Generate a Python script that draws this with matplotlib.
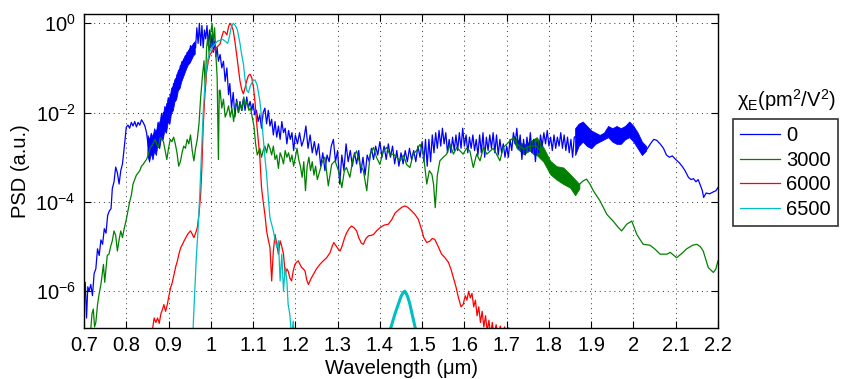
import numpy as np
import matplotlib
matplotlib.use("Agg")
import matplotlib.pyplot as plt
from matplotlib.ticker import FixedLocator, NullLocator, FuncFormatter

plt.rcParams['font.family'] = ['Liberation Sans', 'DejaVu Sans']
plt.rcParams['mathtext.fontset'] = 'custom'
plt.rcParams['mathtext.rm'] = 'Liberation Sans'
plt.rcParams['mathtext.it'] = 'Liberation Sans:italic'

# ---------------- data: (wavelength um, log10 PSD) ----------------
labels = ["0", "3000", "6000", "6500"]
colors = ["#0000ff", "#008000", "#ff0000", "#00bfbf"]

blue = [(0.700,-6.3),(0.703,-5.8),(0.706,-6.6),(0.709,-5.9),(0.712,-6.0),(0.716,-5.85),(0.720,-6.1),(0.724,-5.6),
(0.728,-5.5),(0.732,-5.05),(0.736,-5.2),(0.740,-4.85),(0.744,-4.95),(0.748,-4.6),(0.752,-4.7),(0.756,-4.3),(0.760,-4.2),
(0.764,-4.15),(0.767,-3.7),(0.771,-3.55),(0.775,-3.22),(0.779,-3.35),(0.783,-3.6),(0.787,-3.3),(0.791,-3.15),(0.795,-2.8),
(0.800,-2.33),(0.804,-2.28),(0.808,-2.35),(0.812,-2.22),(0.816,-2.3),(0.820,-2.2),(0.824,-2.32),(0.828,-2.22),(0.832,-2.28),
(0.836,-2.16),(0.840,-2.22),(0.844,-2.3),(0.848,-2.45),(0.852,-2.75),(0.856,-2.6),(0.860,-2.9),(0.864,-2.5),(0.868,-2.75),
(0.872,-2.4),(0.876,-2.5),(0.880,-2.2),(0.884,-2.4),(0.888,-2.0),(0.892,-2.2),(0.896,-1.8),(0.900,-2.0),(0.904,-1.6),
(0.908,-1.75),(0.912,-1.35),(0.916,-1.55),(0.920,-1.15),(0.924,-1.3),(0.928,-0.95),(0.932,-1.1),(0.936,-0.8),(0.940,-0.9),
(0.944,-0.65),(0.948,-0.75),(0.952,-0.5),(0.956,-0.62),(0.960,-0.45),(0.964,-0.55),(0.967,-0.1),(0.970,-0.45),(0.973,0.0),
(0.976,-0.5),(0.979,-0.05),(0.982,-0.55),(0.985,-0.15),(0.988,-0.35),(0.991,-0.05),(0.994,-0.5),(0.997,-0.15),(1.000,-0.55),
(1.003,-0.25),(1.006,-0.65),(1.009,-0.4),(1.012,-0.75),(1.015,-0.55),(1.018,-0.85),(1.022,-0.7),(1.026,-1.0),(1.030,-0.85),
(1.034,-1.3),(1.038,-1.0),(1.042,-1.6),(1.045,-1.35),(1.049,-1.9),(1.053,-1.55),(1.057,-2.1),(1.061,-1.7),(1.065,-2.0),
(1.069,-1.75),(1.073,-1.95),(1.077,-1.7),(1.081,-1.95),(1.085,-1.65),(1.089,-1.9),(1.093,-1.75),(1.097,-1.95),(1.100,-1.8),
(1.104,-2.05),(1.108,-1.95),(1.112,-2.2),(1.116,-2.05),(1.120,-2.35),(1.124,-2.0),(1.128,-1.9),(1.132,-2.25),(1.136,-1.95),
(1.140,-2.3),(1.144,-2.15),(1.148,-2.5),(1.152,-2.2),(1.156,-2.55),(1.160,-2.3),(1.164,-2.6),(1.168,-2.2),(1.172,-2.45),
(1.176,-2.35),(1.180,-2.7),(1.184,-2.4),(1.188,-2.6),(1.192,-2.45),(1.196,-2.85),(1.200,-2.5),(1.205,-2.7),(1.210,-2.45),
(1.215,-2.75),(1.220,-2.6),(1.225,-2.3),(1.230,-2.8),(1.235,-2.5),(1.240,-2.9),(1.245,-2.65),(1.250,-2.95),(1.255,-2.7),
(1.260,-3.2),(1.265,-2.9),(1.270,-3.3),(1.275,-2.95),(1.280,-3.1),(1.285,-2.75),(1.290,-2.6),(1.295,-3.1),(1.300,-2.85),
(1.305,-3.6),(1.310,-2.95),(1.315,-3.3),(1.320,-2.7),(1.325,-3.1),(1.330,-2.85),(1.335,-3.2),(1.340,-2.9),(1.345,-3.15),
(1.350,-2.85),(1.355,-3.35),(1.360,-3.0),(1.365,-3.4),(1.370,-2.95),(1.375,-3.1),(1.380,-2.8),(1.385,-3.05),(1.390,-2.75),
(1.395,-2.95),(1.400,-2.65),(1.405,-3.0),(1.410,-2.75),(1.415,-3.05),(1.420,-2.7),(1.425,-3.0),(1.430,-2.75),(1.435,-3.15),
(1.440,-2.85),(1.445,-3.2),(1.450,-2.9),(1.455,-3.15),(1.460,-2.85),(1.465,-3.1),(1.470,-2.8),(1.475,-3.05),(1.480,-2.85),
(1.485,-3.1),(1.490,-2.75),(1.495,-3.0),(1.500,-2.65),(1.504,-3.1),(1.508,-2.6),(1.512,-3.2),(1.516,-2.6),(1.520,-3.1),
(1.524,-2.5),(1.528,-2.9),(1.532,-2.45),(1.536,-2.8),(1.540,-2.4),(1.544,-2.75),(1.548,-2.35),(1.552,-2.7),(1.556,-2.45),
(1.560,-2.9),(1.564,-2.6),(1.568,-2.9),(1.572,-2.55),(1.576,-2.85),(1.580,-2.5),(1.584,-2.85),(1.588,-2.45),(1.592,-2.8),
(1.596,-2.35),(1.600,-2.75),(1.604,-2.5),(1.608,-2.9),(1.612,-2.55),(1.616,-2.8),(1.620,-2.5),(1.624,-2.85),(1.628,-2.6),
(1.632,-2.95),(1.636,-2.5),(1.640,-2.9),(1.644,-2.45),(1.648,-3.0),(1.652,-2.55),(1.656,-2.85),(1.660,-2.5),(1.664,-2.8),
(1.668,-2.45),(1.672,-2.9),(1.676,-2.5),(1.680,-2.95),(1.684,-2.6),(1.688,-2.9),(1.692,-2.7),(1.696,-3.0),(1.700,-2.75),
(1.704,-3.0),(1.708,-2.6),(1.712,-2.85),(1.716,-2.45),(1.720,-2.7),(1.724,-2.35),(1.728,-2.8),(1.732,-2.5),(1.736,-3.05),
(1.740,-2.6),(1.744,-2.95),(1.748,-2.55),(1.752,-2.85),(1.756,-2.45),(1.760,-2.9),(1.764,-2.6),(1.768,-3.1),(1.772,-2.65),
(1.776,-2.9),(1.780,-2.5),(1.784,-2.75),(1.788,-2.45),(1.792,-2.7),(1.796,-2.4),(1.800,-2.75),(1.804,-2.55),(1.808,-2.85),
(1.812,-2.5),(1.816,-2.8),(1.820,-2.55),(1.824,-2.75),(1.828,-2.45),(1.832,-2.8),(1.836,-2.5),(1.840,-2.85),(1.844,-2.55),
(1.848,-2.9),(1.852,-2.6),(1.856,-3.0),(1.860,-2.55),(1.870,-2.5),(1.890,-2.5),(1.910,-2.6),(1.930,-2.5),(1.950,-2.5),
(1.970,-2.5),(1.990,-2.4),(2.010,-2.6),(2.025,-2.8),(2.032,-2.82),(2.040,-2.7),(2.048,-2.6),(2.055,-2.62),(2.063,-2.7),
(2.071,-2.8),(2.078,-2.95),(2.085,-3.0),(2.092,-2.97),(2.100,-3.05),(2.108,-3.12),(2.115,-3.2),(2.122,-3.3),(2.130,-3.45),
(2.136,-3.5),(2.142,-3.48),(2.148,-3.55),(2.153,-3.5),(2.158,-3.62),(2.163,-3.75),(2.166,-3.9),(2.172,-3.8),(2.180,-3.82),
(2.188,-3.78),(2.195,-3.75),(2.200,-3.68)]

# dense-oscillation envelopes of the blue trace (wavelength, low, high)
blue_band1 = [(0.850,-2.95,-2.5),(0.854,-3.1,-2.6),(0.858,-2.9,-2.45),(0.862,-3.05,-2.55),(0.866,-2.85,-2.35),
(0.870,-2.95,-2.45),(0.874,-2.7,-2.2),(0.878,-2.8,-2.3),(0.882,-2.55,-2.0),(0.886,-2.6,-2.1),(0.890,-2.4,-1.85),
(0.894,-2.45,-1.9),(0.898,-2.2,-1.65),(0.902,-2.25,-1.7),(0.906,-2.0,-1.45),(0.910,-1.95,-1.4),(0.914,-1.75,-1.25),
(0.918,-1.7,-1.2),(0.922,-1.5,-1.05),(0.926,-1.45,-1.0),(0.930,-1.3,-0.85),(0.934,-1.2,-0.82),(0.938,-1.1,-0.72),
(0.942,-1.0,-0.68),(0.946,-0.92,-0.6),(0.950,-0.88,-0.55),(0.954,-0.8,-0.5),(0.958,-0.72,-0.45),(0.962,-0.68,-0.4)]
blue_band2 = [(1.862,-2.95,-2.35),(1.870,-2.75,-2.25),(1.880,-2.65,-2.2),(1.890,-2.75,-2.3),(1.900,-2.8,-2.4),
(1.910,-2.7,-2.45),(1.920,-2.65,-2.5),(1.930,-2.6,-2.45),(1.940,-2.55,-2.3),(1.950,-2.65,-2.35),(1.960,-2.7,-2.3),
(1.970,-2.7,-2.35),(1.980,-2.6,-2.3),(1.990,-2.55,-2.2),(2.000,-2.65,-2.3),(2.010,-2.8,-2.45),(2.020,-2.95,-2.65),
(2.030,-2.85,-2.75)]

green = [(0.714,-7.2),(0.716,-6.85),(0.719,-6.5),(0.722,-6.4),(0.725,-6.8),(0.728,-6.7),(0.732,-6.3),(0.736,-6.05),
(0.740,-5.85),(0.743,-5.62),(0.746,-5.4),(0.749,-5.8),(0.752,-5.5),(0.755,-5.2),(0.759,-5.17),(0.763,-5.0),(0.767,-4.87),
(0.771,-4.65),(0.775,-4.75),(0.779,-5.1),(0.783,-4.85),(0.787,-4.65),(0.791,-4.8),(0.795,-4.6),(0.800,-4.4),(0.804,-4.2),
(0.808,-4.0),(0.812,-3.85),(0.816,-3.6),(0.820,-3.5),(0.824,-3.4),(0.828,-3.35),(0.832,-3.3),(0.836,-3.2),(0.840,-3.16),
(0.844,-3.1),(0.848,-3.05),(0.852,-2.95),(0.856,-2.8),(0.860,-2.75),(0.864,-2.68),(0.868,-2.6),(0.872,-2.7),(0.876,-2.78),
(0.880,-2.56),(0.884,-2.6),(0.888,-2.65),(0.892,-2.85),(0.896,-3.05),(0.900,-2.8),(0.904,-2.6),(0.908,-2.65),(0.912,-2.55),
(0.916,-2.7),(0.920,-2.9),(0.924,-3.2),(0.928,-3.1),(0.932,-2.9),(0.936,-2.75),(0.940,-2.8),(0.944,-2.6),(0.948,-2.7),
(0.952,-2.5),(0.956,-2.85),(0.960,-3.08),(0.964,-2.8),(0.968,-2.6),(0.972,-2.26),(0.976,-1.66),(0.980,-1.2),(0.984,-0.84),
(0.987,-1.5),(0.990,-0.55),(0.993,-0.3),(0.996,-0.7),(1.000,-0.2),(1.003,0.0),(1.006,-0.45),(1.009,-0.1),(1.012,-0.7),
(1.015,-1.2),(1.018,-3.05),(1.020,-1.5),(1.022,-1.5),(1.026,-1.9),(1.030,-1.7),(1.034,-2.1),(1.038,-2.0),(1.042,-1.85),
(1.046,-2.1),(1.050,-1.9),(1.054,-2.2),(1.058,-1.85),(1.062,-1.75),(1.066,-2.0),(1.070,-1.8),(1.074,-1.95),(1.078,-1.65),
(1.082,-1.85),(1.086,-1.75),(1.090,-1.95),(1.094,-1.9),(1.098,-2.1),(1.102,-2.3),(1.106,-2.7),(1.110,-2.95),(1.116,-2.8),
(1.120,-3.0),(1.124,-2.85),(1.128,-2.75),(1.132,-2.9),(1.136,-2.7),(1.140,-2.8),(1.144,-2.95),(1.148,-2.75),(1.152,-3.05),
(1.156,-2.95),(1.160,-3.25),(1.164,-2.9),(1.168,-3.0),(1.172,-3.15),(1.176,-2.85),(1.180,-3.0),(1.184,-2.9),(1.188,-3.1),
(1.192,-2.95),(1.196,-3.2),(1.200,-3.0),(1.204,-2.8),(1.208,-3.05),(1.212,-3.2),(1.216,-3.45),(1.220,-3.1),(1.224,-3.75),
(1.228,-3.2),(1.232,-3.0),(1.236,-3.3),(1.240,-3.1),(1.244,-3.4),(1.248,-3.2),(1.252,-3.5),(1.258,-3.3),(1.264,-3.1),
(1.270,-3.0),(1.278,-3.64),(1.286,-3.16),(1.294,-3.08),(1.302,-3.3),(1.310,-3.68),(1.316,-3.3),(1.321,-3.23),(1.329,-3.45),
(1.337,-3.0),(1.345,-2.86),(1.353,-3.16),(1.361,-3.3),(1.369,-3.75),(1.377,-2.93),(1.385,-2.78),(1.392,-3.0),(1.400,-3.16),
(1.408,-2.86),(1.416,-2.78),(1.424,-2.95),(1.432,-2.93),(1.440,-3.0),(1.448,-3.08),(1.456,-2.95),(1.463,-3.16),(1.471,-3.23),
(1.479,-2.93),(1.487,-2.85),(1.495,-2.71),(1.503,-2.93),(1.511,-3.6),(1.517,-3.3),(1.523,-3.38),(1.527,-3.6),(1.531,-4.13),
(1.536,-3.4),(1.542,-3.08),(1.550,-3.0),(1.558,-2.93),(1.566,-2.71),(1.574,-2.93),(1.582,-2.78),(1.590,-2.86),(1.597,-2.93),
(1.605,-2.8),(1.613,-2.86),(1.621,-3.23),(1.629,-2.93),(1.637,-3.08),(1.645,-2.78),(1.653,-2.93),(1.661,-2.86),(1.668,-2.8),
(1.676,-2.93),(1.684,-3.08),(1.692,-2.78),(1.700,-2.71),(1.708,-2.63),(1.716,-2.56),(1.724,-2.7),(1.740,-2.82),(1.755,-2.75),
(1.771,-2.75),(1.787,-2.95),(1.803,-3.23),(1.818,-3.35),(1.834,-3.42),(1.850,-3.53),(1.862,-3.68),(1.873,-3.6),(1.881,-3.53),
(1.889,-3.49),(1.897,-3.6),(1.905,-3.75),(1.921,-3.98),(1.937,-4.28),(1.952,-4.43),(1.962,-4.55),(1.972,-4.65),(1.984,-4.5),
(1.996,-4.43),(2.008,-4.73),(2.023,-4.95),(2.039,-4.97),(2.050,-5.05),(2.063,-5.17),(2.079,-5.17),(2.087,-5.13),(2.102,-5.25),
(2.115,-5.15),(2.126,-5.05),(2.140,-4.97),(2.150,-4.95),(2.158,-5.0),(2.165,-5.1),(2.177,-5.47),(2.189,-5.58),(2.195,-5.5),
(2.200,-5.32)]

green_band = [(1.716,-2.62,-2.52),(1.724,-2.8,-2.6),(1.740,-2.93,-2.72),(1.755,-2.85,-2.65),(1.763,-2.93,-2.6),
(1.771,-2.95,-2.55),(1.787,-3.1,-2.78),(1.803,-3.38,-3.08),(1.818,-3.5,-3.2),(1.834,-3.6,-3.23),(1.850,-3.68,-3.38),
(1.862,-3.85,-3.5),(1.872,-3.7,-3.6)]

red = [(0.858,-7.2),(0.862,-6.86),(0.866,-6.6),(0.870,-6.7),(0.874,-6.6),(0.878,-6.72),(0.882,-6.5),(0.886,-6.4),
(0.889,-6.3),(0.893,-6.45),(0.897,-6.3),(0.901,-6.1),(0.905,-5.92),(0.909,-5.8),(0.913,-5.62),(0.917,-5.45),(0.921,-5.32),
(0.925,-5.15),(0.929,-5.02),(0.933,-4.95),(0.937,-4.87),(0.941,-4.8),(0.945,-4.73),(0.949,-4.68),(0.952,-4.65),(0.956,-4.72),
(0.960,-4.8),(0.964,-4.7),(0.968,-4.58),(0.972,-4.28),(0.976,-3.83),(0.979,-3.2),(0.982,-2.3),(0.986,-1.6),(0.990,-1.1),
(0.994,-0.85),(0.998,-0.7),(1.006,-0.6),(1.014,-0.54),(1.022,-0.46),(1.026,-0.3),(1.030,-0.18),(1.034,-0.2),(1.038,-0.26),
(1.042,-0.08),(1.045,0.0),(1.049,-0.05),(1.053,-0.16),(1.057,-0.4),(1.061,-0.69),(1.065,-1.0),(1.069,-1.29),(1.073,-1.48),
(1.077,-1.58),(1.081,-1.45),(1.085,-1.29),(1.089,-1.17),(1.093,-1.14),(1.097,-1.22),(1.101,-1.44),(1.105,-1.8),(1.108,-2.18),
(1.112,-2.6),(1.116,-3.0),(1.120,-3.68),(1.124,-4.0),(1.128,-4.28),(1.132,-4.65),(1.136,-4.85),(1.140,-5.02),(1.144,-5.77),
(1.148,-5.1),(1.152,-4.73),(1.156,-4.95),(1.160,-5.17),(1.164,-4.87),(1.168,-5.0),(1.172,-5.17),(1.176,-5.62),(1.180,-5.5),
(1.183,-5.55),(1.187,-5.7),(1.191,-5.77),(1.195,-5.55),(1.199,-5.4),(1.203,-5.35),(1.207,-5.32),(1.211,-5.4),(1.215,-5.47),
(1.219,-5.5),(1.223,-5.55),(1.227,-5.75),(1.231,-5.85),(1.237,-5.72),(1.243,-5.62),(1.250,-5.5),(1.258,-5.4),(1.266,-5.32),
(1.274,-5.25),(1.282,-5.14),(1.287,-5.0),(1.291,-4.91),(1.296,-4.98),(1.301,-5.05),(1.306,-5.1),(1.311,-4.98),(1.316,-4.82),
(1.321,-4.7),(1.327,-4.6),(1.333,-4.54),(1.339,-4.58),(1.345,-4.65),(1.350,-4.8),(1.356,-4.92),(1.361,-4.95),(1.367,-4.82),
(1.373,-4.76),(1.379,-4.75),(1.385,-4.73),(1.392,-4.65),(1.400,-4.58),(1.410,-4.52),(1.420,-4.5),(1.428,-4.4),(1.436,-4.25),
(1.444,-4.18),(1.452,-4.12),(1.459,-4.09),(1.466,-4.12),(1.475,-4.2),(1.483,-4.28),(1.491,-4.39),(1.498,-4.6),(1.504,-4.8),
(1.511,-4.91),(1.518,-4.88),(1.524,-4.82),(1.530,-4.84),(1.538,-5.0),(1.546,-5.17),(1.554,-5.25),(1.562,-5.35),(1.568,-5.5),
(1.574,-5.7),(1.580,-5.9),(1.586,-6.15),(1.592,-6.35),(1.597,-6.3),(1.602,-6.1),(1.606,-6.2),(1.610,-6.0),(1.614,-6.15),
(1.618,-6.05),(1.622,-6.35),(1.626,-6.2),(1.630,-6.55),(1.634,-6.35),(1.638,-6.7),(1.642,-6.45),(1.646,-6.8),(1.650,-6.55),
(1.654,-6.9),(1.658,-6.65),(1.662,-7.0),(1.666,-6.7),(1.670,-7.0),(1.675,-6.75),(1.680,-7.0),(1.685,-6.78),(1.690,-7.0),
(1.695,-6.8),(1.700,-7.0),(1.705,-6.82),(1.710,-7.0),(1.715,-6.85),(1.720,-7.3)]

cyan = [(0.955,-7.2),(0.958,-6.86),(0.962,-6.0),(0.966,-5.2),(0.970,-4.6),(0.974,-3.8),(0.978,-2.9),(0.982,-2.0),
(0.986,-1.4),(0.990,-1.0),(0.994,-0.76),(0.998,-0.62),(1.004,-0.54),(1.010,-0.46),(1.016,-0.4),(1.022,-0.38),(1.028,-0.36),
(1.034,-0.4),(1.040,-0.45),(1.044,-0.3),(1.048,-0.1),(1.053,0.0),(1.058,-0.05),(1.063,-0.15),(1.069,-0.45),(1.073,-0.7),
(1.077,-0.9),(1.081,-1.25),(1.085,-1.5),(1.089,-1.55),(1.093,-1.42),(1.097,-1.33),(1.101,-1.28),(1.105,-1.27),(1.110,-1.4),
(1.116,-1.73),(1.120,-2.1),(1.124,-2.56),(1.128,-3.0),(1.132,-3.38),(1.136,-3.9),(1.140,-4.36),(1.144,-4.5),(1.148,-4.65),
(1.152,-4.85),(1.156,-5.02),(1.160,-4.87),(1.164,-5.77),(1.168,-5.17),(1.172,-6.0),(1.176,-5.47),(1.180,-5.77),(1.183,-6.3),
(1.187,-6.52),(1.191,-7.0),(1.195,-6.67),(1.199,-7.2)]

cyan_bump = [(1.410,-7.5),(1.420,-7.0),(1.428,-6.75),(1.436,-6.5),(1.444,-6.28),(1.450,-6.12),(1.455,-6.03),(1.459,-6.0),
(1.464,-6.08),(1.470,-6.25),(1.476,-6.5),(1.482,-6.75),(1.488,-7.0),(1.495,-7.5)]

xticks = [0.7, 0.8, 0.9, 1.0, 1.1, 1.2, 1.3, 1.4, 1.5, 1.6, 1.7, 1.8, 1.9, 2.0, 2.1, 2.2]
yticks = [1e-6, 1e-4, 1e-2, 1e0]

# ---------------- figure ----------------
W, H = 844, 379
FS = 14.5
fig = plt.figure(figsize=(W/100, H/100), dpi=100)
ax = fig.add_axes([84/W, 1-328/H, 634/W, 314/H])

def arr(pts):
    return np.array(pts, dtype=float).T

lw = 0.9
handles = []
series = [blue, green, red, cyan]
for pts, c, lab in zip(series, colors, labels):
    x, y = arr(pts)
    h, = ax.plot(x, 10**y, color=c, lw=lw, label=lab)
    handles.append(h)
    if c == colors[0]:
        for band in (blue_band1, blue_band2):
            bx, blo, bhi = arr(band)
            ax.fill_between(bx, 10**blo, 10**bhi, color=c, lw=0.6, edgecolor=c)
    if c == colors[1]:
        bx, blo, bhi = arr(green_band)
        ax.fill_between(bx, 10**blo, 10**bhi, color=c, lw=0.6, edgecolor=c)
    if c == colors[3]:
        bx, by = arr(cyan_bump)
        ax.plot(bx, 10**by, color=c, lw=2.2)

ax.set_yscale('log')
ax.set_xlim(0.7, 2.2)
ax.set_ylim(10**-6.824, 10**0.208)
ax.xaxis.set_major_locator(FixedLocator(xticks))
ax.xaxis.set_major_formatter(FuncFormatter(lambda v, p: f"{v:g}"))
ax.yaxis.set_major_locator(FixedLocator(yticks))
ax.yaxis.set_minor_locator(NullLocator())
ax.yaxis.set_major_formatter(FuncFormatter(lambda v, p: r"$\mathrm{10^{%d}}$" % int(round(np.log10(v)))))
ax.tick_params(direction='in', top=True, right=True, length=5, width=0.8, labelsize=FS, pad=6)
ax.grid(True, which='major', linestyle=(0, (1, 4)), color='0.2', linewidth=0.7)
for s in ax.spines.values():
    s.set_linewidth(1.0)

ax.set_xlabel('Wavelength (μm)', fontsize=FS, labelpad=3)
ax.set_ylabel('PSD (a.u.)', fontsize=FS, labelpad=4)

leg = fig.legend(handles=handles, labels=labels, loc='upper left',
                 bbox_to_anchor=(733/W, 1-119/H), bbox_transform=fig.transFigure,
                 frameon=True, fancybox=False, edgecolor='black', fontsize=FS,
                 handlelength=2.0, handletextpad=0.3, labelspacing=0.28, borderpad=0.35,
                 borderaxespad=0)
leg.get_frame().set_linewidth(1.2)
fig.text(786/W, 1-100/H, r'$\mathrm{\chi_{E}}$(pm$^\mathrm{2}$/V$^\mathrm{2}$)', fontsize=FS,
         ha='center', va='center')

fig.savefig('out.png', dpi=100)
